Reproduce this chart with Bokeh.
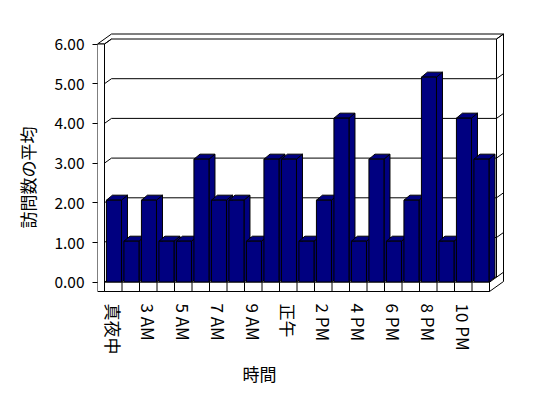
import numpy as np
from bokeh.plotting import figure
from bokeh.models import Range1d, FixedTicker, NumeralTickFormatter, Title
from bokeh.embed import file_html
from bokeh.resources import INLINE

# ---- data ----
hours = ["真夜中", "1 AM", "3 AM", "4 AM", "5 AM", "6 AM", "7 AM", "8 AM", "9 AM",
         "10 AM", "正午", "1 PM", "2 PM", "3 PM", "4 PM", "5 PM", "6 PM", "7 PM",
         "8 PM", "9 PM", "10 PM", "11 PM"]
visits = [2, 1, 2, 1, 1, 3, 2, 2, 1, 3, 3, 1, 2, 4, 1, 3, 1, 2, 5, 1, 4, 3]
y_ticks = [0, 1, 2, 3, 4, 5, 6]
x_title = "時間"
y_title = "訪問数の平均"

FONT = "Noto Sans CJK JP"
NAVY = "#000080"

# ---- 3D projection constants (pixel scale of the frame) ----
N = len(hours)
YMAX = y_ticks[-1]
PX_X = 17.5          # px per category
PX_Y = 39.7          # px per value unit
DX = 7 / PX_X        # depth offset (x)
DY = 5 / PX_Y        # depth offset (y)
WALL = 7 / PX_X      # left wall thickness
FLOOR = -9.3 / PX_Y  # floor slab thickness
BAR_L, BAR_R = 0.11, 0.97
BDX, BDY = 6 / PX_X, 5 / PX_Y
PERSP = 1.033        # bars sit slightly in front: perspective enlargement

FRAME_W, FRAME_H = 407, 262
x0 = -WALL
y0 = -10.3 / PX_Y

p = figure(width=532, height=391, output_backend="svg", toolbar_location=None,
           x_range=Range1d(x0, x0 + FRAME_W / PX_X),
           y_range=Range1d(y0, y0 + FRAME_H / PX_Y),
           min_border_left=97, min_border_right=28, min_border_top=30,
           min_border_bottom=99)
p.outline_line_color = None
p.grid.visible = False
p.background_fill_color = "white"
p.border_fill_color = "white"

# ---- axes ----
ya = p.yaxis[0]
ya.ticker = FixedTicker(ticks=y_ticks)
ya.formatter = NumeralTickFormatter(format="0.00")
ya.axis_line_color = None
ya.major_tick_in = 0
ya.major_tick_out = 5
ya.major_tick_line_color = "black"
ya.minor_tick_in = 0
ya.minor_tick_out = 0
ya.major_label_standoff = 8
ya.major_label_text_font = FONT
ya.major_label_text_font_size = "15.5px"
ya.major_label_text_color = "black"

xa = p.xaxis[0]
xticks = [i + 0.5 for i in range(0, N, 2)]
xa.ticker = FixedTicker(ticks=xticks)
xa.major_label_overrides = {i + 0.5: hours[i] for i in range(0, N, 2)}
xa.major_label_orientation = "vertical"
xa.axis_line_color = None
xa.major_tick_in = 0
xa.major_tick_out = 0
xa.minor_tick_in = 0
xa.minor_tick_out = 0
xa.major_label_standoff = 11
xa.major_label_text_font = FONT
xa.major_label_text_font_size = "17px"
xa.major_label_text_color = "black"

LC = "black"

# ---- back wall / gridlines ----
vals = np.array(y_ticks, dtype=float)
inner = vals[1:-1]
p.segment(x0=DX, y0=inner + DY, x1=N + DX, y1=inner + DY, line_color=LC)          # back grid
p.segment(x0=0, y0=vals, x1=DX, y1=vals + DY, line_color=LC)                      # left wall grid
p.segment(x0=-WALL, y0=vals, x1=0, y1=vals, line_color=LC)                        # across wall front
p.segment(x0=N + DX, y0=vals + DY, x1=N + 2 * DX, y1=vals + 2 * DY, line_color=LC)  # right stubs

# wall frame lines
p.segment(x0=[DX, DX, N + DX, N + 2 * DX, N + DX, -WALL, 0, DX],
          y0=[YMAX + DY, YMAX + 2 * DY, DY, FLOOR + 2 * DY, YMAX + DY, YMAX, YMAX, DY],
          x1=[N + DX, N + 2 * DX, N + DX, N + 2 * DX, N + 2 * DX, -WALL + 2 * DX, DX, N + DX],
          y1=[YMAX + DY, YMAX + 2 * DY, YMAX + DY, YMAX + 2 * DY, YMAX + 2 * DY,
              YMAX + 2 * DY, YMAX + DY, DY],
          line_color=LC)
# floor right side
p.segment(x0=[N, N], y0=[0, FLOOR], x1=[N + DX, N + 2 * DX], y1=[DY, FLOOR + 2 * DY],
          line_color=LC)

# ---- bars ----
xi = np.arange(N)
L = xi + BAR_L
R = xi + BAR_R
T = np.array(visits, dtype=float) * PERSP
side_xs = [[r, r + BDX, r + BDX, r] for r in R]
side_ys = [[0, BDY, t + BDY, t] for t in T]
top_xs = [[l, r, r + BDX, l + BDX] for l, r in zip(L, R)]
top_ys = [[t, t, t + BDY, t + BDY] for t in T]
p.patches(side_xs, side_ys, fill_color=NAVY, line_color=LC)
p.patches(top_xs, top_ys, fill_color=NAVY, line_color=LC)
p.quad(left=L, right=R, bottom=0, top=T, fill_color=NAVY, line_color=LC)

# ---- left wall front face and floor front face ----
p.quad(left=[-WALL], right=[0], bottom=[FLOOR], top=[YMAX], fill_color="white", line_color=LC)
p.quad(left=[0], right=[N], bottom=[FLOOR], top=[0], fill_color="white", line_color=LC)
p.segment(x0=np.arange(N + 1), y0=FLOOR, x1=np.arange(N + 1), y1=0, line_color=LC)

# ---- axis titles ----
p.add_layout(Title(text=x_title, align="left", offset=145, text_font=FONT,
                   text_font_size="17px", text_font_style="normal",
                   text_color="black", standoff=2), "below")
p.add_layout(Title(text=y_title, align="left", offset=64, text_font=FONT,
                   text_font_size="17px", text_font_style="normal",
                   text_color="black", standoff=23), "left")

open("out.html", "w").write(file_html(p, INLINE))
